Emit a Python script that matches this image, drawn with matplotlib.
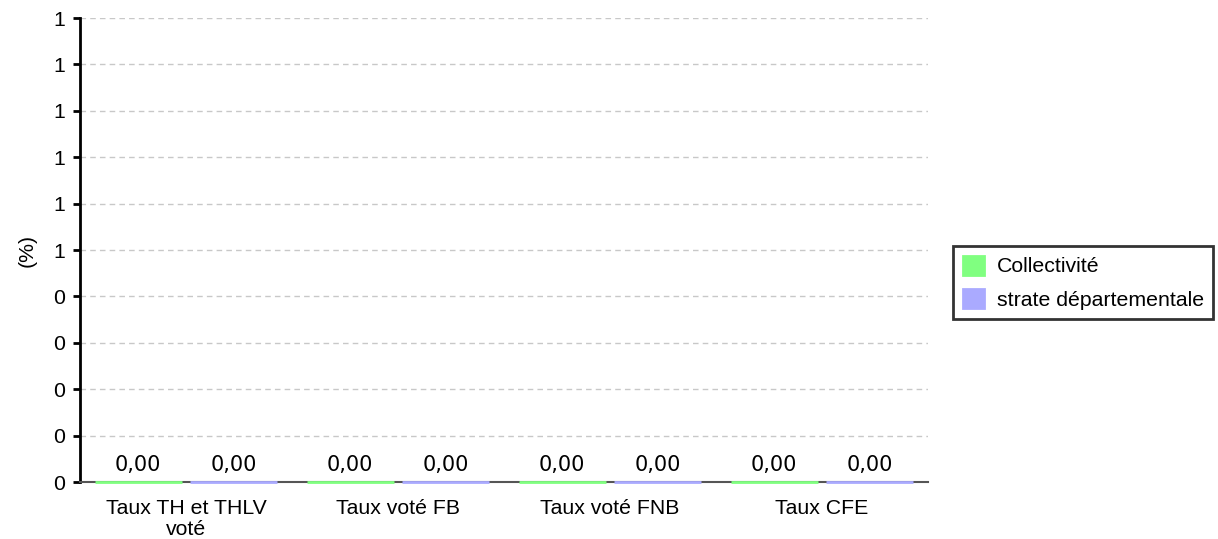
import matplotlib
matplotlib.use("Agg")
import matplotlib.pyplot as plt
import numpy as np

categories = ["Taux TH et THLV\nvoté", "Taux voté FB", "Taux voté FNB", "Taux CFE"]
collectivite = [0.0, 0.0, 0.0, 0.0]
strate = [0.0, 0.0, 0.0, 0.0]
series_names = ["Collectivité", "strate départementale"]
yticks = [0.0, 0.1, 0.2, 0.3, 0.4, 0.5, 0.6, 0.7, 0.8, 0.9, 1.0]
ytick_labels = ["0", "0", "0", "0", "0", "1", "1", "1", "1", "1", "1"]

plt.rcParams['font.family'] = ['Liberation Sans', 'DejaVu Sans']
FS = 15.3

fig = plt.figure(figsize=(12.18, 5.39), dpi=100)
ax = fig.add_axes([80/1218, 1-482/539, (928-80)/1218, (482-18)/539])

x = np.arange(len(categories))
w = 0.41
off = 0.225
green = "#80ff80"
blue = "#aaaaff"
b1 = ax.bar(x - off, collectivite, w, color=green, edgecolor=green, linewidth=2,
            label=series_names[0], zorder=4, clip_on=False)
b2 = ax.bar(x + off, strate, w, color=blue, edgecolor=blue, linewidth=2,
            label=series_names[1], zorder=4, clip_on=False)

for xi, v in zip(x - off, collectivite):
    ax.annotate(f"{v:.2f}".replace(".", ","), (xi, v), xytext=(0, 5), textcoords="offset points",
                ha="center", va="bottom", fontsize=15, family='DejaVu Sans')
for xi, v in zip(x + off, strate):
    ax.annotate(f"{v:.2f}".replace(".", ","), (xi, v), xytext=(0, 5), textcoords="offset points",
                ha="center", va="bottom", fontsize=15, family='DejaVu Sans')

ax.set_xlim(-0.5, len(categories) - 0.5)
ax.set_ylim(0, 1.0)
ax.set_yticks(yticks)
ax.set_yticklabels(ytick_labels, fontsize=FS)
ax.set_xticks(x)
ax.set_xticklabels(categories, fontsize=FS, linespacing=1.15)
ax.tick_params(axis='x', length=0, pad=12)
ax.tick_params(axis='y', length=5, width=2, pad=6, color='black')
ax.yaxis.grid(True, linestyle=(0, (4, 3)), color='#c8c8c8', linewidth=1, zorder=0)
ax.set_axisbelow(True)
for s in ['top', 'right']:
    ax.spines[s].set_visible(False)
ax.spines['left'].set_linewidth(2)
ax.spines['bottom'].set_linewidth(1.5)
ax.spines['bottom'].set_color('#555555')
ax.set_ylabel("(%)", fontsize=FS, labelpad=12)

leg = fig.legend(handles=[b1, b2], labels=series_names, loc='upper left',
                 bbox_to_anchor=(953/1218, 1-246/539), fontsize=FS, frameon=True,
                 fancybox=False, edgecolor='black', handlelength=1.0, handleheight=1.0,
                 handletextpad=0.6, borderpad=0.45, labelspacing=0.6, borderaxespad=0)
leg.get_frame().set_linewidth(2)

fig.savefig("out.png", dpi=100)
